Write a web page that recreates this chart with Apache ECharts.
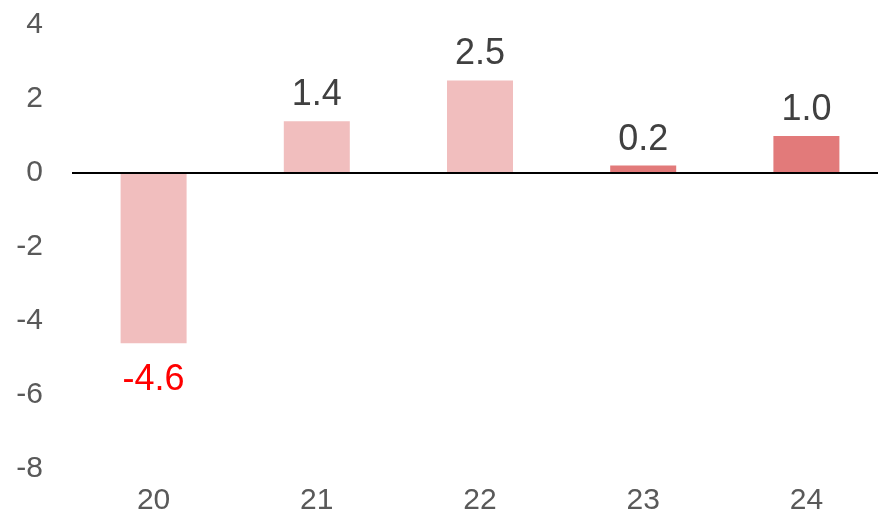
<!DOCTYPE html>
<html>
<head>
<meta charset="utf-8">
<script src="https://cdn.jsdelivr.net/npm/echarts@6/dist/echarts.min.js"></script>
<style>
  html, body { margin: 0; padding: 0; background: #fff; }
  #chart { width: 878px; height: 516px; }
</style>
</head>
<body>
<div id="chart"></div>
<script>
// 数据
var categories = ['20', '21', '22', '23', '24'];
var values = [-4.6, 1.4, 2.5, 0.2, 1.0];
var barColors = ['#F1BEBE', '#F1BEBE', '#F1BEBE', '#E27A7A', '#E27A7A'];

var font = '"Liberation Sans", Arial, sans-serif';

var chart = echarts.init(document.getElementById('chart'));

var seriesData = values.map(function (v, i) {
  var neg = v < 0;
  return {
    value: v,
    itemStyle: { color: barColors[i] },
    label: {
      position: neg ? 'bottom' : 'top',
      distance: neg ? 19 : 8,
      color: neg ? '#FF0000' : '#404040'
    }
  };
});

chart.setOption({
  animation: false,
  grid: {
    left: 72,
    width: 816,   // 右侧超出画布，和原图一样被截掉
    top: 25,
    bottom: 47,
    outerBoundsMode: 'none'
  },
  xAxis: {
    type: 'category',
    data: categories,
    axisLine: { show: false },
    axisTick: { show: false },
    axisLabel: {
      margin: 17,
      fontSize: 30,
      fontFamily: font,
      color: '#595959'
    }
  },
  yAxis: {
    type: 'value',
    min: -8,
    max: 4,
    interval: 2,
    axisLine: { show: false },
    axisTick: { show: false },
    splitLine: { show: false },
    axisLabel: {
      margin: 29,
      fontSize: 30,
      fontFamily: font,
      color: '#595959'
    }
  },
  series: [
    {
      type: 'bar',
      data: seriesData,
      barWidth: 66,
      label: {
        show: true,
        fontSize: 36,
        fontFamily: font,
        formatter: function (p) { return p.value.toFixed(1); }
      },
      markLine: {
        silent: true,
        symbol: 'none',
        label: { show: false },
        lineStyle: { color: '#000', width: 2, type: 'solid' },
        data: [{ yAxis: 0 }]
      }
    }
  ]
});
</script>
</body>
</html>
